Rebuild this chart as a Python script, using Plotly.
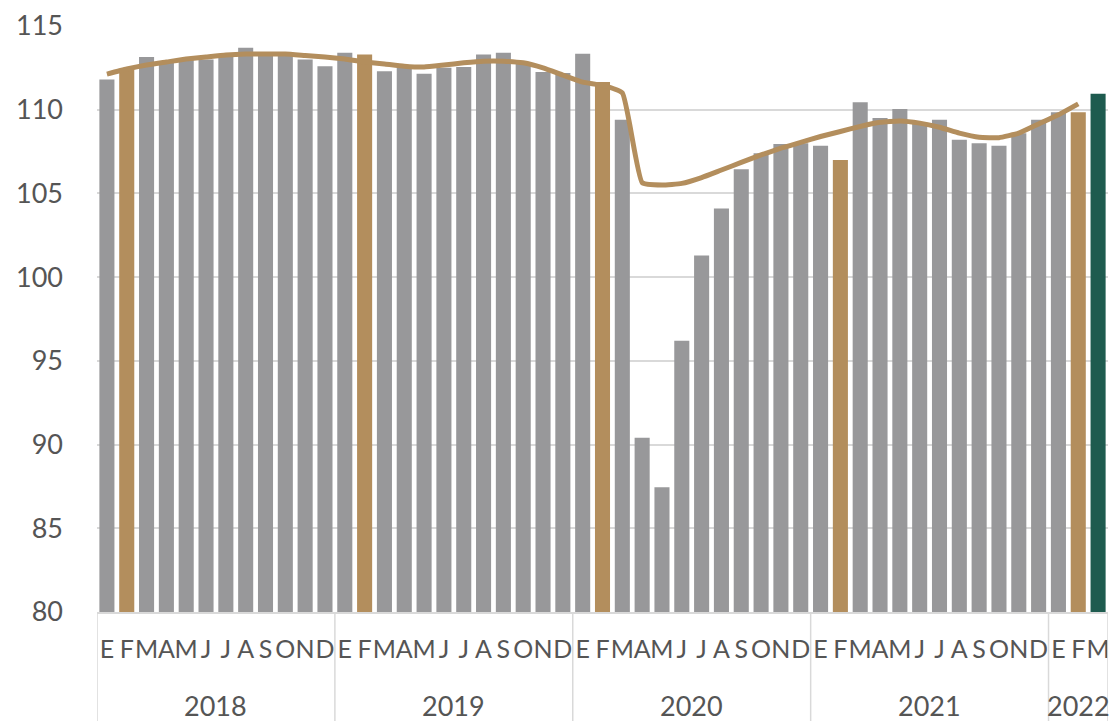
import plotly.graph_objects as go

years = ["2018"] * 12 + ["2019"] * 12 + ["2020"] * 12 + ["2021"] * 12 + ["2022"] * 3
months = ["E", "F", "M", "A", "M", "J", "J", "A", "S", "O", "N", "D"] * 4 + ["E", "F", "M"]

values = [
    111.8, 112.4, 113.15, 112.85, 113.0, 113.0, 113.2, 113.7, 113.4, 113.3, 113.0, 112.6,
    113.4, 113.3, 112.3, 112.5, 112.15, 112.5, 112.55, 113.3, 113.4, 112.85, 112.25, 112.2,
    113.35, 111.65, 109.4, 90.4, 87.45, 96.2, 101.3, 104.1, 106.45, 107.4, 107.95, 108.0,
    107.85, 107.0, 110.45, 109.5, 110.05, 109.25, 109.4, 108.2, 108.0, 107.85, 108.6, 109.4,
    109.85, 109.85, 110.95,
]

trend = [
    112.13, 112.43, 112.67, 112.85, 113.03, 113.15, 113.27, 113.33, 113.33, 113.33, 113.24, 113.15,
    113.03, 112.85, 112.73, 112.6, 112.55, 112.67, 112.8, 112.9, 112.9, 112.8, 112.5, 112.07,
    111.65, 111.45, 111.0, 105.65, 105.5, 105.6, 105.95, 106.4, 106.85, 107.3, 107.7, 108.05,
    108.4, 108.7, 109.0, 109.25, 109.33, 109.2, 108.95, 108.6, 108.35, 108.33, 108.6, 109.15,
    109.7, 110.35,
]

y_ticks = [80, 85, 90, 95, 100, 105, 110, 115]

GRAY = "#98989A"
GOLD = "#B38E5D"
GREEN = "#1E5B4F"
TEXT = "#555555"
FONT = "Lato, 'Open Sans', sans-serif"

n = len(values)
x = list(range(n))
colors = [GOLD if m == "F" else GRAY for m in months]
colors[-1] = GREEN

fig = go.Figure()
fig.add_trace(go.Bar(x=x, y=values, marker=dict(color=colors, line=dict(width=0)),
                     width=0.76, showlegend=False))
fig.add_trace(go.Scatter(x=list(range(len(trend))), y=trend, mode="lines",
                         line=dict(color=GOLD, width=5, shape="spline", smoothing=0.4),
                         showlegend=False))

# year groups: dividers and labels
groups = []
for i, yr in enumerate(years):
    if not groups or groups[-1][0] != yr:
        groups.append([yr, i, i])
    else:
        groups[-1][2] = i

shapes = []
annotations = []
bottom = -109 / 586
for yr, a, b in groups:
    shapes.append(dict(type="line", xref="x", yref="paper", x0=a - 0.5, x1=a - 0.5,
                       y0=0, y1=bottom, line=dict(color="#D9D9D9", width=1.5)))
    annotations.append(dict(text=yr, x=(a + b) / 2, xref="x", y=0, yref="paper",
                            yshift=-93, yanchor="middle", xanchor="center", showarrow=False,
                            font=dict(size=27, color=TEXT, family=FONT)))
shapes.append(dict(type="line", xref="x", yref="paper", x0=n - 0.5, x1=n - 0.5,
                   y0=0, y1=bottom, line=dict(color="#D9D9D9", width=1.5)))

fig.update_layout(
    width=1114, height=721,
    margin=dict(l=97, r=4, t=26, b=109),
    paper_bgcolor="white", plot_bgcolor="white",
    shapes=shapes, annotations=annotations,
    xaxis=dict(range=[-0.5, n - 0.5], tickvals=x, ticktext=months, tickangle=0,
               tickfont=dict(size=25, color=TEXT, family=FONT),
               ticks="", ticklabelstandoff=14, showgrid=False, zeroline=False,
               showline=True, linecolor="#D9D9D9", linewidth=1.5),
    yaxis=dict(range=[80, 115], tickvals=y_ticks, ticks="", ticklabelstandoff=33,
               tickfont=dict(size=27, color=TEXT, family=FONT),
               showgrid=True, gridcolor="#D9D9D9", gridwidth=1.5, zeroline=False,
               showline=False),
)

fig.write_html("out.html", config={"displayModeBar": False},
               post_script="document.body.style.margin='0';document.body.style.overflow='hidden';")
